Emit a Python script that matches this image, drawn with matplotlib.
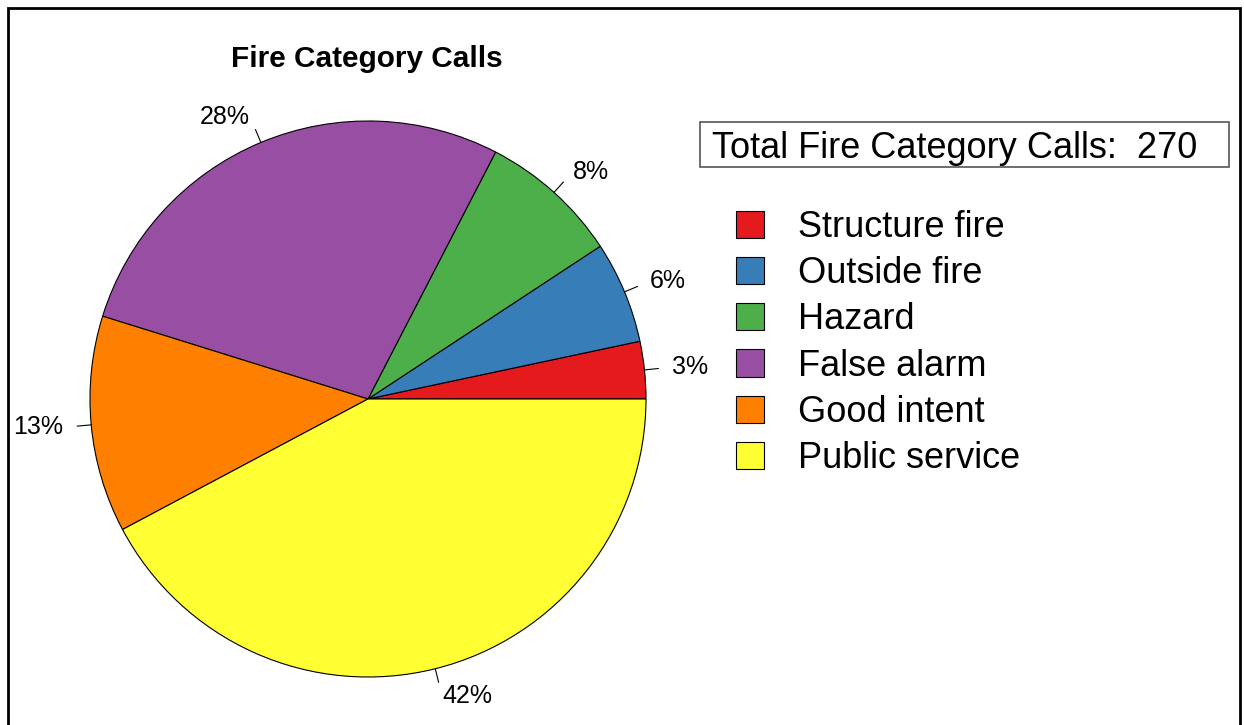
import numpy as np
import matplotlib.pyplot as plt
from matplotlib.patches import Patch, Rectangle

plt.rcParams['font.family'] = ['Liberation Sans', 'DejaVu Sans']

# fire category call counts (total 270)
categories = ['Structure fire', 'Outside fire', 'Hazard', 'False alarm', 'Good intent', 'Public service']
counts = [9, 16, 22, 75, 34, 114]
colors = ['#E41A1C', '#377EB8', '#4DAF4A', '#984EA3', '#FF7F00', '#FFFF33']

total = sum(counts)
pcts = [round(100 * c / total) for c in counts]
labels = [str(p) + '%' for p in pcts]

W, H = 1244, 725
fig = plt.figure(figsize=(W / 100, H / 100), dpi=100)

# pie axes: centre (368, 399) px from top-left, radius 278 px
cx, cy, r = 368, H - 399, 278
side = 2 * r * 1.25
ax = fig.add_axes([(cx - side / 2) / W, (cy - side / 2) / H, side / W, side / H])
wedges, _ = ax.pie(counts, colors=colors, startangle=0, counterclock=True,
                   wedgeprops=dict(edgecolor='black', linewidth=0.8))
ax.set_xlim(-1.25, 1.25)
ax.set_ylim(-1.25, 1.25)

# R-style labels: short tick from 1.0 to 1.05, text at 1.1
for w, lab in zip(wedges, labels):
    ang = np.deg2rad((w.theta1 + w.theta2) / 2)
    x, y = np.cos(ang), np.sin(ang)
    ax.plot([x, 1.05 * x], [y, 1.05 * y], color='black', lw=0.8, clip_on=False)
    ax.text(1.1 * x, 1.1 * y, lab, fontsize=18, ha='left' if x >= 0 else 'right',
            va='center', clip_on=False)

fig.text(367 / W, 1 - 59 / H, 'Fire Category Calls', fontsize=21.4, fontweight='bold',
         ha='center', va='center')

# boxed total
fig.add_artist(Rectangle((700 / W, 1 - 167 / H), (1229 - 700) / W, 45 / H,
                         transform=fig.transFigure, facecolor='white',
                         edgecolor='#555555', linewidth=1.2))
fig.text(712 / W, 1 - 148 / H, 'Total Fire Category Calls:  ' + str(total), fontsize=26,
         ha='left', va='center')

handles = [Patch(facecolor=c, edgecolor='black', linewidth=0.8) for c in colors]
fig.legend(handles, categories, loc='upper left', bbox_to_anchor=(736 / W, 1 - 210 / H),
           frameon=False, fontsize=26, handlelength=0.78, handleheight=0.78,
           handletextpad=0.95, labelspacing=0.31, borderpad=0, borderaxespad=0)

# outer frame (bottom edge falls outside the image)
fig.add_artist(Rectangle((8 / W, -0.05), (1240 - 8) / W, 1.05 - 8 / H,
                         transform=fig.transFigure, fill=False, edgecolor='black', linewidth=2))

fig.savefig('out.png', dpi=100, facecolor='white')
